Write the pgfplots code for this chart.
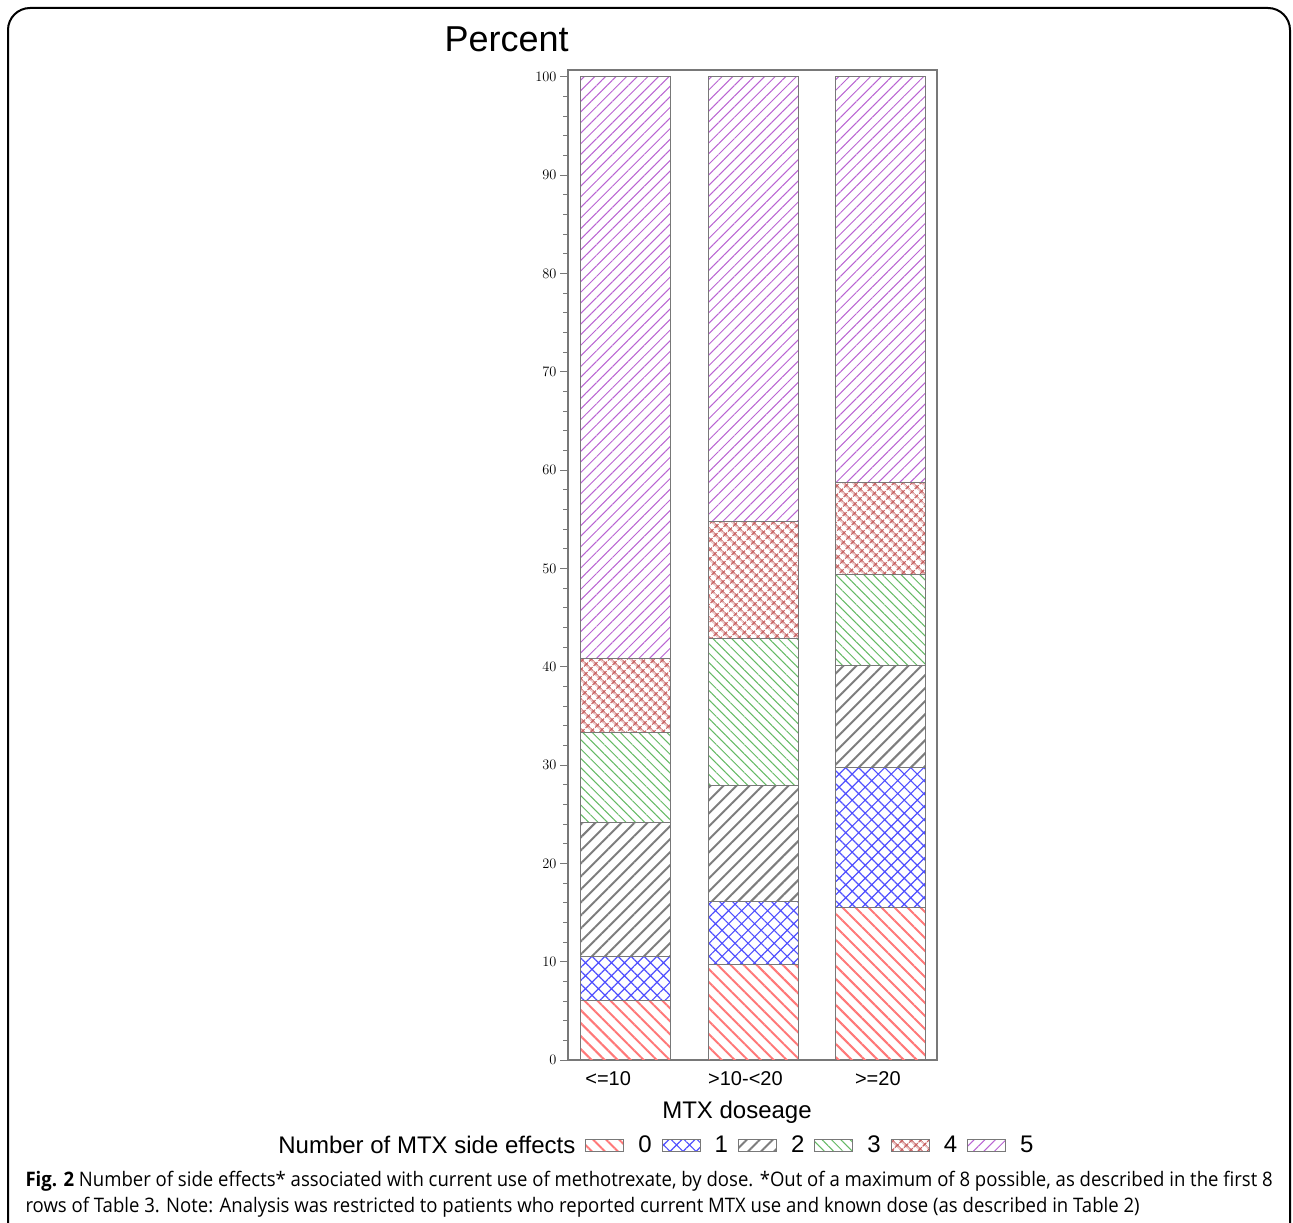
\documentclass[border=0pt]{standalone}
\usepackage{fontspec}
\setmainfont{Liberation Sans}
\newfontfamily\capfont{Open Sans}[FakeStretch=0.927]
\usepackage{pgfplots}
\pgfplotsset{compat=1.18}
\usetikzlibrary{patterns.meta}
\definecolor{cZero}{RGB}{255,120,120}
\definecolor{cOne}{RGB}{80,80,255}
\definecolor{cTwo}{RGB}{125,125,125}
\definecolor{cThree}{RGB}{100,185,100}
\definecolor{cFour}{RGB}{195,85,85}
\definecolor{cFive}{RGB}{185,100,210}
\definecolor{axgray}{RGB}{120,120,120}
\begin{document}
\begin{tikzpicture}
\path[use as bounding box] (0,0) rectangle (1293pt,-1223pt);
\draw[line width=2pt] (8pt,-1223pt) -- (8pt,-30pt) arc[start angle=180,end angle=90,radius=22pt] -- (1268pt,-8pt) arc[start angle=90,end angle=0,radius=22pt] -- (1290pt,-1223pt);
\node[anchor=west,font=\fontsize{36}{40}\selectfont] at (441pt,-39pt) {Percent};
\begin{axis}[
  at={(568pt,-1060pt)}, anchor=south west,
  scale only axis, width=369pt, height=990pt,
  ybar stacked, bar width=90pt,
  xmin=-0.455, xmax=2.44, ymin=0, ymax=100.7,
  xtick={-0.14,0.937,1.976},
  xticklabels={{<=10},{>10-<20},{>=20}},
  x tick style={draw=none},
  xticklabel style={font=\fontsize{20}{22}\selectfont, yshift=0pt},
  ytick={0,10,...,100},
  minor y tick num=4,
  ytick pos=left, tick align=outside,
  major tick length=8pt, minor tick length=5pt,
  y tick style={axgray, line width=1pt},
  yticklabel style={font=\fontsize{14}{16}\selectfont},
  axis line style={axgray, line width=1.5pt},
  xlabel={MTX doseage},
  xlabel style={at={(0.458,-0.0525)}, anchor=center, font=\fontsize{24}{26}\selectfont},
  legend columns=-1,
  legend style={at={(0.222,-0.086)}, anchor=center, draw=none,
    font=\fontsize{24}{26}\selectfont,
    /tikz/every even column/.append style={column sep=8pt},
    /tikz/every odd column/.append style={column sep=12pt}},
  legend image code/.code={\draw[#1] (0pt,-6pt) rectangle (38pt,6pt);},
]
\addlegendimage{empty legend}
\addlegendentry{Number of MTX side effects}
\addplot[draw=axgray, line width=1pt, pattern={Lines[angle=-45,distance=9.2pt,line width=2pt]}, pattern color=cZero] coordinates {(0,6.1) (1,9.7) (2,15.5)};
\addlegendentry{0}
\addplot[draw=axgray, line width=1pt, pattern={Hatch[angle=45,distance=9.2pt,line width=1.2pt]}, pattern color=cOne] coordinates {(0,4.4) (1,6.4) (2,14.3)};
\addlegendentry{1}
\addplot[draw=axgray, line width=1pt, pattern={Lines[angle=45,distance=9.2pt,line width=2pt]}, pattern color=cTwo] coordinates {(0,13.7) (1,11.8) (2,10.3)};
\addlegendentry{2}
\addplot[draw=axgray, line width=1pt, pattern={Lines[angle=-45,distance=6.6pt,line width=1pt]}, pattern color=cThree] coordinates {(0,9.1) (1,15.0) (2,9.3)};
\addlegendentry{3}
\addplot[draw=axgray, line width=1pt, pattern={Hatch[angle=45,distance=6.5pt,line width=1.2pt]}, pattern color=cFour] coordinates {(0,7.5) (1,11.9) (2,9.3)};
\addlegendentry{4}
\addplot[draw=axgray, line width=1pt, pattern={Lines[angle=45,distance=7.5pt,line width=1pt]}, pattern color=cFive] coordinates {(0,59.2) (1,45.2) (2,41.3)};
\addlegendentry{5}
\end{axis}
\node[anchor=west,font=\capfont\fontsize{20}{24}\selectfont] at (22pt,-1181pt) {\textbf{Fig. 2} Number of side effects* associated with current use of methotrexate, by dose. *Out of a maximum of 8 possible, as described in the first 8};
\node[anchor=west,font=\capfont\fontsize{20}{24}\selectfont] at (22pt,-1207pt) {rows of Table 3. Note: Analysis was restricted to patients who reported current MTX use and known dose (as described in Table 2)};
\end{tikzpicture}
\end{document}
